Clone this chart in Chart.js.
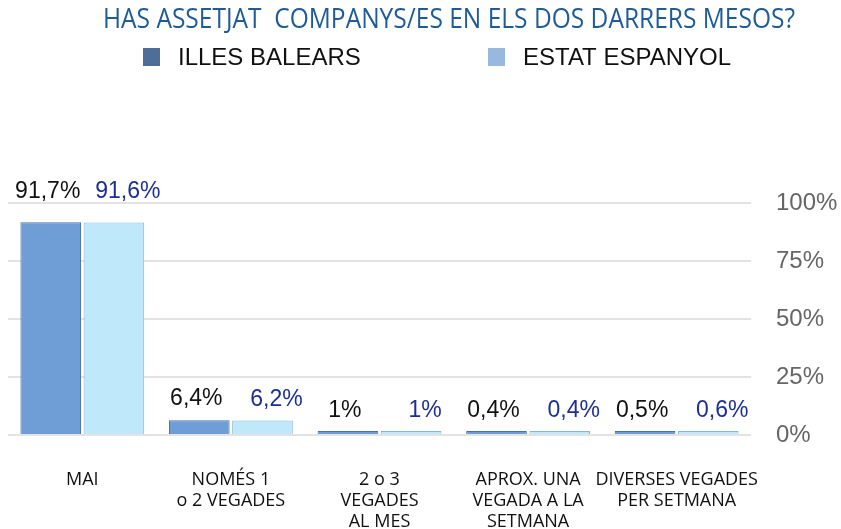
<!DOCTYPE html>
<html>
<head>
<meta charset="utf-8">
<script src="https://cdn.jsdelivr.net/npm/chart.js@4.4.0/dist/chart.umd.min.js"></script>
<style>
html, body { margin: 0; padding: 0; background: #fff; }
#wrap { width: 841px; height: 529px; }
</style>
</head>
<body>
<div id="wrap"><canvas id="grafic"></canvas></div>
<script>
// Dades del gràfic
const titol = 'HAS ASSETJAT  COMPANYS/ES EN ELS DOS DARRERS MESOS?';
const categories = [
    ['MAI'],
    ['NOMÉS 1', 'o 2 VEGADES'],
    ['2 o 3', 'VEGADES', 'AL MES'],
    ['APROX. UNA', 'VEGADA A LA', 'SETMANA'],
    ['DIVERSES VEGADES', 'PER SETMANA']
];
const illesBalears = [91.7, 6.4, 1, 0.4, 0.5];
const estatEspanyol = [91.6, 6.2, 1, 0.4, 0.6];
const yTicks = [0, 25, 50, 75, 100];

function formatPct(v) {
    return String(v).replace('.', ',') + '%';
}

// Títol i llegenda
const capcalera = {
    id: 'capcalera',
    afterDraw(chart) {
        const ctx = chart.ctx;
        ctx.save();
        ctx.font = '27px "Open Sans", sans-serif';
        ctx.fillStyle = '#1d5b99';
        ctx.textBaseline = 'middle';
        const w = ctx.measureText(titol).width;
        ctx.translate(103, 20);
        ctx.scale(692 / w, 1);
        ctx.fillText(titol, 0, 0);
        ctx.restore();

        ctx.save();
        ctx.font = '24px "Liberation Sans", Arial, sans-serif';
        ctx.textBaseline = 'middle';
        ctx.fillStyle = '#4e6e98';
        ctx.fillRect(143, 48, 17, 18);
        ctx.fillStyle = '#96b9dd';
        ctx.fillRect(488, 48, 17, 18);
        ctx.fillStyle = '#111';
        ctx.fillText('ILLES BALEARS', 178, 58);
        ctx.fillText('ESTAT ESPANYOL', 523, 58);
        ctx.restore();
    }
};

// Etiquetes de valor sobre les barres
const etiquetes = {
    id: 'etiquetes',
    afterDatasetsDraw(chart) {
        const ctx = chart.ctx;
        ctx.save();
        ctx.font = '23px "Liberation Sans", Arial, sans-serif';
        ctx.textAlign = 'center';
        ctx.textBaseline = 'alphabetic';
        chart.data.datasets.forEach((ds, i) => {
            const meta = chart.getDatasetMeta(i);
            meta.data.forEach((bar, j) => {
                ctx.fillStyle = i === 0 ? '#111' : '#1c2f94';
                const dx = i === 0 ? -3 : 14;
                // una mica més d'espai com més alta és la barra (efecte perspectiva)
                const gap = 14 + 0.05 * (bar.base - bar.y);
                ctx.fillText(formatPct(ds.data[j]), bar.x + dx, bar.y - gap);
            });
        });
        ctx.restore();
    }
};

const ctx = document.getElementById('grafic').getContext('2d');
const chart = new Chart(ctx, {
    type: 'bar',
    data: {
        labels: categories,
        datasets: [{
            label: 'ILLES BALEARS',
            data: illesBalears,
            backgroundColor: '#6f9dd5',
            borderColor: '#4a72a8',
            borderWidth: 1
        }, {
            label: 'ESTAT ESPANYOL',
            data: estatEspanyol,
            backgroundColor: '#bfe9fb',
            borderColor: '#86b6d2',
            borderWidth: 1
        }]
    },
    options: {
        responsive: true,
        maintainAspectRatio: false,
        animation: false,
        layout: {
            padding: { top: 203, left: 8, right: 0, bottom: 0 }
        },
        plugins: {
            legend: { display: false },
            title: { display: false },
            tooltip: { enabled: false }
        },
        datasets: {
            bar: {
                categoryPercentage: 0.85,
                barPercentage: 0.96,
                minBarLength: 4
            }
        },
        scales: {
            x: {
                grid: { display: false, drawTicks: false },
                border: { display: false },
                afterFit: axis => { axis.height = 94; },
                ticks: {
                    color: '#111',
                    font: { family: '"Open Sans", sans-serif', size: 18, lineHeight: 1.17 },
                    padding: 34,
                    maxRotation: 0,
                    autoSkip: false
                }
            },
            y: {
                position: 'right',
                min: 0,
                max: 100,
                afterBuildTicks: axis => {
                    axis.ticks = yTicks.map(v => ({ value: v }));
                },
                afterFit: axis => { axis.width = 90; },
                grid: { color: '#e3e3e3', lineWidth: 2, drawTicks: false },
                border: { display: false },
                ticks: {
                    color: '#666',
                    font: { family: '"Liberation Sans", Arial, sans-serif', size: 24 },
                    padding: 25,
                    callback: v => v + '%'
                }
            }
        }
    },
    plugins: [etiquetes, capcalera]
});
</script>
</body>
</html>
